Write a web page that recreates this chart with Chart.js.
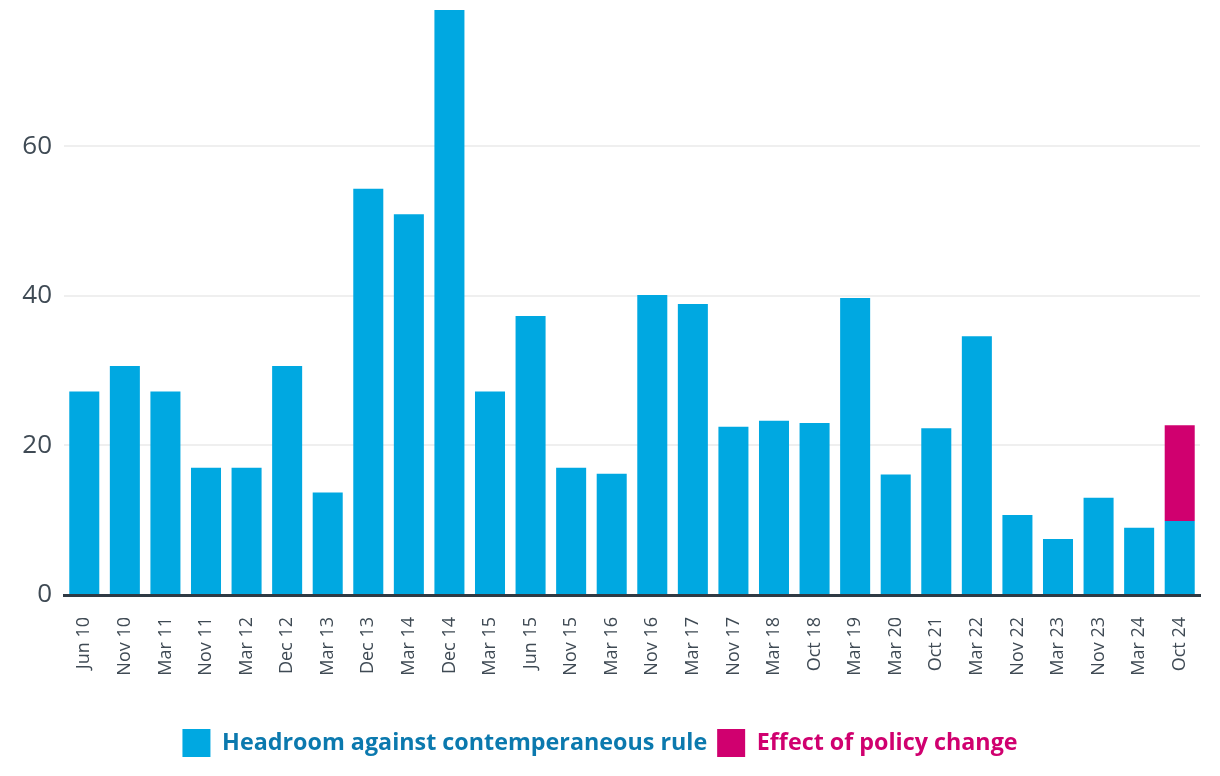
<!DOCTYPE html>
<html>
<head>
<meta charset="utf-8">
<script src="https://cdn.jsdelivr.net/npm/chart.js@4.4.1/dist/chart.umd.min.js"></script>
<style>
  html, body { margin: 0; padding: 0; background: #fff; }
  #wrap { width: 1220px; height: 776px; }
</style>
</head>
<body>
<div id="wrap"><canvas id="chart" width="1220" height="776"></canvas></div>
<script>
const labels = ['Jun 10', 'Nov 10', 'Mar 11', 'Nov 11', 'Mar 12', 'Dec 12', 'Mar 13', 'Dec 13', 'Mar 14', 'Dec 14',
  'Mar 15', 'Jun 15', 'Nov 15', 'Mar 16', 'Nov 16', 'Mar 17', 'Nov 17', 'Mar 18', 'Oct 18', 'Mar 19',
  'Mar 20', 'Oct 21', 'Mar 22', 'Nov 22', 'Mar 23', 'Nov 23', 'Mar 24', 'Oct 24']

const headroom = [27.2, 30.6, 27.2, 17.0, 17.0, 30.6, 13.7, 54.3, 50.9, 78.2,
  27.2, 37.3, 17.0, 16.2, 40.1, 38.9, 22.5, 23.3, 23.0, 39.7,
  16.1, 22.3, 34.6, 10.7, 7.5, 13.0, 9.0, 9.9]

const policyEffect = [null, null, null, null, null, null, null, null, null, null,
  null, null, null, null, null, null, null, null, null, null,
  null, null, null, null, null, null, null, 12.8]

const yTicks = [0, 20, 40, 60]

const BLUE = '#00a8e1'
const MAGENTA = '#d0006f'
const TEXT = '#3f4a54'

const ctx = document.getElementById('chart')
new Chart(ctx, {
  type: 'bar',
  data: {
    labels: labels,
    datasets: [
      {
        label: 'Headroom against contemperaneous rule',
        data: headroom,
        backgroundColor: BLUE,
      },
      {
        label: 'Effect of policy change',
        data: policyEffect,
        backgroundColor: MAGENTA,
      },
    ],
  },
  options: {
    responsive: false,
    animation: false,
    layout: { padding: { top: 10, right: 20, bottom: 9, left: 0 } },
    datasets: {
      bar: { barPercentage: 0.74, categoryPercentage: 1 },
    },
    scales: {
      x: {
        stacked: true,
        grid: { display: false },
        border: { display: true, color: '#2f3a44', width: 3 },
        ticks: {
          autoSkip: false,
          maxRotation: 90,
          minRotation: 90,
          padding: 14,
          color: TEXT,
          font: { family: 'Open Sans', size: 18 },
        },
        afterFit: (s) => { s.height = 124 },
      },
      y: {
        stacked: true,
        min: 0,
        max: 78.2,
        border: { display: false },
        grid: { color: '#efefef', lineWidth: 2, drawTicks: false },
        ticks: {
          padding: 12,
          color: TEXT,
          font: { family: 'Open Sans', size: 26 },
        },
        afterBuildTicks: (s) => { s.ticks = yTicks.map((v) => ({ value: v })) },
        afterFit: (s) => {
          s.width = 64
          s.paddingTop = 0
          s.paddingBottom = 0
        },
      },
    },
    plugins: {
      legend: {
        position: 'bottom',
        labels: {
          boxWidth: 28,
          boxHeight: 28,
          padding: 10,
          font: { family: 'Open Sans', size: 23.3, weight: 'bold' },
          generateLabels: (chart) => {
            const cols = ['#0b79ae', MAGENTA]
            return chart.data.datasets.map((d, i) => ({
              text: d.label,
              fillStyle: d.backgroundColor,
              strokeStyle: d.backgroundColor,
              lineWidth: 0,
              fontColor: cols[i],
              datasetIndex: i,
              hidden: false,
            }))
          },
        },
      },
      tooltip: { enabled: false },
    },
  },
})
</script>
</body>
</html>
